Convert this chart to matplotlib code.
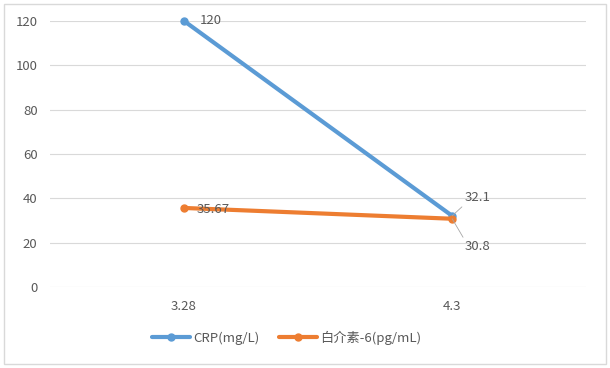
import matplotlib
matplotlib.use("Agg")
import matplotlib.pyplot as plt
from matplotlib.patches import Rectangle

plt.rcParams['font.family'] = ['Noto Sans CJK SC', 'DejaVu Sans']

categories = ["3.28", "4.3"]
crp = [120, 32.1]
il6 = [35.67, 30.8]
crp_label = "CRP(mg/L)"
il6_label = "白介素-6(pg/mL)"

blue = "#5B9BD5"
orange = "#ED7D31"
text_col = "#595959"
grid_col = "#D9D9D9"
fs = 9.5

fig = plt.figure(figsize=(6.1, 3.68), dpi=100)
fig.patches.append(Rectangle((0.007, 0.011), 0.986, 0.978, transform=fig.transFigure,
                             fill=False, edgecolor=grid_col, linewidth=1))
ax = fig.add_axes([0.082, 0.22, 0.879, 0.723])

x = [0.5, 1.5]
ax.plot(x, crp, color=blue, linewidth=3, marker="o", markersize=5, label=crp_label,
        clip_on=False, solid_capstyle="round", zorder=3)
ax.plot(x, il6, color=orange, linewidth=3, marker="o", markersize=5, label=il6_label,
        clip_on=False, solid_capstyle="round", zorder=3)

ax.set_xlim(0, 2)
ax.set_ylim(0, 120)
ax.set_yticks(range(0, 121, 20))
ax.set_xticks(x)
ax.set_xticklabels(categories)
ax.grid(axis="y", color=grid_col, linewidth=0.8)
ax.set_axisbelow(True)
for s in ax.spines.values():
    s.set_visible(False)
ax.tick_params(length=0, colors=text_col, labelsize=fs)
ax.tick_params(axis="y", pad=9)
ax.tick_params(axis="x", pad=9)

# data labels
ax.annotate(f"{crp[0]:g}", (x[0], crp[0]), xytext=(11, 0), textcoords="offset points",
            va="center", ha="left", fontsize=fs, color=text_col)
ax.annotate(f"{il6[0]:g}", (x[0], il6[0]), xytext=(9, -1), textcoords="offset points",
            va="center", ha="left", fontsize=fs, color=text_col)
ax.annotate(f"{crp[1]:g}", (x[1], crp[1]), xytext=(9, 13), textcoords="offset points",
            va="center", ha="left", fontsize=fs, color=text_col,
            arrowprops=dict(arrowstyle="-", color="#A6A6A6", linewidth=0.6,
                            shrinkA=0, shrinkB=0, relpos=(0, 0)))
ax.annotate(f"{il6[1]:g}", (x[1], il6[1]), xytext=(9, -20), textcoords="offset points",
            va="center", ha="left", fontsize=fs, color=text_col,
            arrowprops=dict(arrowstyle="-", color="#A6A6A6", linewidth=0.6,
                            shrinkA=0, shrinkB=0, relpos=(0, 1)))

fig.legend(loc="center", bbox_to_anchor=(0.47, 0.082), ncol=2, frameon=False,
           fontsize=fs, labelcolor=text_col, handlelength=2.9, columnspacing=1.5,
           handletextpad=0.2)

fig.savefig("out.png", dpi=100)
